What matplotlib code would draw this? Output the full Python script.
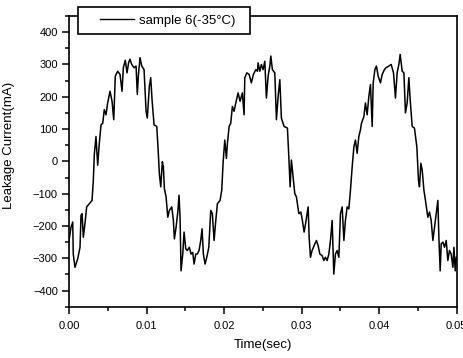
import matplotlib
matplotlib.use("Agg")
import matplotlib.pyplot as plt
from matplotlib.lines import Line2D
from matplotlib.patches import Rectangle
from matplotlib.ticker import MultipleLocator

plt.rcParams['font.family'] = ['Liberation Sans', 'DejaVu Sans']

time_s = [
    0.00000, 0.00026, 0.00048, 0.00055, 0.00077, 0.00112, 0.00142, 0.00155, 0.00168, 0.00185,
    0.00210, 0.00228, 0.00262, 0.00297, 0.00314, 0.00326, 0.00348, 0.00370, 0.00391, 0.00413,
    0.00435, 0.00455, 0.00477, 0.00499, 0.00529, 0.00555, 0.00577, 0.00597, 0.00628, 0.00658,
    0.00684, 0.00701, 0.00726, 0.00748, 0.00770, 0.00787, 0.00809, 0.00839, 0.00865, 0.00881,
    0.00894, 0.00916, 0.00938, 0.00968, 0.00994, 0.01010, 0.01036, 0.01054, 0.01071, 0.01097,
    0.01132, 0.01152, 0.01165, 0.01183, 0.01204, 0.01217, 0.01230, 0.01252, 0.01274, 0.01294,
    0.01325, 0.01346, 0.01359, 0.01381, 0.01403, 0.01419, 0.01432, 0.01445, 0.01467, 0.01484,
    0.01506, 0.01526, 0.01552, 0.01574, 0.01596, 0.01613, 0.01635, 0.01655, 0.01677, 0.01699,
    0.01716, 0.01733, 0.01755, 0.01777, 0.01803, 0.01828, 0.01849, 0.01871, 0.01893, 0.01914,
    0.01948, 0.01970, 0.01987, 0.02009, 0.02030, 0.02043, 0.02065, 0.02086, 0.02107, 0.02129,
    0.02151, 0.02181, 0.02206, 0.02236, 0.02258, 0.02267, 0.02293, 0.02323, 0.02352, 0.02378,
    0.02409, 0.02430, 0.02439, 0.02461, 0.02481, 0.02503, 0.02525, 0.02546, 0.02568, 0.02590,
    0.02603, 0.02623, 0.02654, 0.02675, 0.02697, 0.02719, 0.02739, 0.02774, 0.02817, 0.02835,
    0.02852, 0.02868, 0.02890, 0.02912, 0.02933, 0.02964, 0.02990, 0.03010, 0.03032, 0.03054,
    0.03084, 0.03097, 0.03114, 0.03135, 0.03161, 0.03191, 0.03213, 0.03235, 0.03265, 0.03286,
    0.03307, 0.03329, 0.03351, 0.03372, 0.03394, 0.03415, 0.03436, 0.03458, 0.03480, 0.03501,
    0.03523, 0.03545, 0.03565, 0.03587, 0.03609, 0.03630, 0.03652, 0.03674, 0.03694, 0.03716,
    0.03738, 0.03759, 0.03772, 0.03803, 0.03823, 0.03845, 0.03867, 0.03888, 0.03910, 0.03923,
    0.03945, 0.03965, 0.03987, 0.04017, 0.04039, 0.04068, 0.04090, 0.04125, 0.04155, 0.04185,
    0.04210, 0.04232, 0.04254, 0.04271, 0.04297, 0.04319, 0.04339, 0.04361, 0.04383, 0.04400,
    0.04426, 0.04455, 0.04486, 0.04507, 0.04520, 0.04538, 0.04555, 0.04577, 0.04597, 0.04628,
    0.04649, 0.04671, 0.04693, 0.04714, 0.04735, 0.04757, 0.04770, 0.04787, 0.04800, 0.04822,
    0.04843, 0.04865, 0.04886, 0.04907, 0.04929, 0.04951, 0.04964, 0.04981, 0.04994,
]

current_mA = [
    -245, -204, -188, -287, -328, -302, -266, -167, -162, -235,
    -183, -141, -131, -121, -58, 20, 77, -12, 56, 113,
    118, 160, 144, 181, 217, 186, 129, 264, 279, 269,
    217, 290, 313, 274, 307, 316, 300, 290, 295, 207,
    264, 321, 295, 284, 155, 134, 232, 259, 191, 113,
    108, 25, -37, -79, -1, -17, -84, -110, -173, -152,
    -141, -183, -240, -204, -157, -105, -173, -339, -287, -219,
    -271, -276, -266, -287, -282, -318, -287, -287, -276, -245,
    -209, -287, -318, -297, -266, -152, -162, -245, -183, -131,
    -121, -89, -6, 66, 9, 56, 108, 118, 170, 155,
    181, 212, 186, 212, 144, 259, 274, 269, 243, 269,
    284, 279, 305, 279, 300, 284, 310, 196, 264, 295,
    326, 284, 274, 129, 201, 253, 134, 108, 103, 14,
    -79, 4, -48, -100, -110, -162, -157, -183, -219, -188,
    -141, -235, -297, -276, -261, -245, -261, -287, -292, -307,
    -297, -307, -287, -245, -183, -349, -287, -276, -297, -162,
    -141, -245, -183, -141, -147, -89, -17, 45, 66, 25,
    77, 98, 118, 139, 181, 144, 201, 238, 108, 243,
    284, 295, 264, 243, 269, 284, 290, 295, 300, 274,
    196, 274, 300, 331, 279, 274, 150, 181, 259, 191,
    108, 103, 45, -58, -79, -6, -27, -89, -121, -173,
    -157, -183, -245, -204, -162, -121, -235, -339, -255, -250,
    -266, -245, -307, -276, -287, -328, -266, -339, -297,
]

series_label = "sample 6(-35\u00b0C)"
x_label = "Time(sec)"
y_label = "Leakage Current(mA)"
x_ticks = [0.00, 0.01, 0.02, 0.03, 0.04, 0.05]
x_ticklabels = ["0.00", "0.01", "0.02", "0.03", "0.04", "0.05"]
y_ticks = [-400, -300, -200, -100, 0, 100, 200, 300, 400]

W, H = 463, 358
fig = plt.figure(figsize=(W / 100, H / 100), dpi=100)
ax = fig.add_axes([69 / W, 1 - 306.7 / H, (456.7 - 69) / W, (306.7 - 16) / H])

ax.plot(time_s, current_mA, color='black', lw=1.1)
ax.set_xlim(0, 0.05)
ax.set_ylim(-450, 450)
ax.set_xticks(x_ticks)
ax.set_xticklabels(x_ticklabels)
ax.set_yticks(y_ticks)
ax.xaxis.set_minor_locator(MultipleLocator(0.005))
ax.yaxis.set_minor_locator(MultipleLocator(50))
ax.tick_params(which='both', direction='out', top=False, right=False, width=1.1,
               labelsize=8)
ax.tick_params(which='major', length=5)
ax.tick_params(which='minor', length=3)
ax.tick_params(axis='x', pad=5)
ax.tick_params(axis='y', pad=3)
for sp in ax.spines.values():
    sp.set_linewidth(1.2)

ax.set_xlabel(x_label, fontsize=9.5, labelpad=6)
ax.set_ylabel(y_label, fontsize=9.5)
ax.yaxis.set_label_coords(-0.139, 0.556)

# legend box (overlapping the top spine)
rect = Rectangle((78 / W, 1 - 34 / H), (250 - 78) / W, (34 - 7) / H,
                 transform=fig.transFigure, facecolor='white', edgecolor='black',
                 linewidth=1.2, zorder=4)
fig.patches.append(rect)
handle = Line2D([], [], color='black', lw=1.0)
fig.legend([handle], [series_label], loc='center left',
           bbox_to_anchor=(93 / W, 1 - 21 / H), frameon=False,
           handlelength=2.6, handletextpad=0.4, borderpad=0.0,
           prop={'size': 9.5}).set_zorder(5)

fig.savefig("out.png", dpi=100)
